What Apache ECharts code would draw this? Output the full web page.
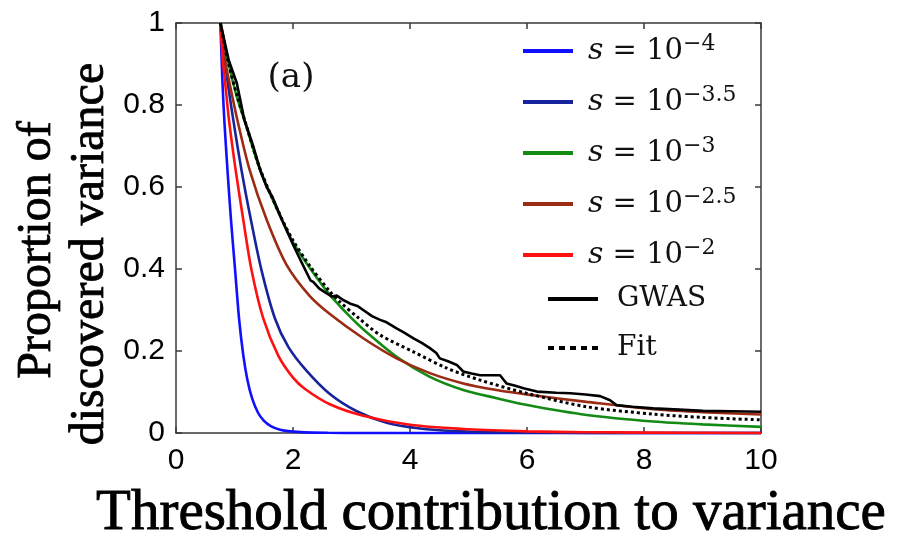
<!DOCTYPE html>
<html>
<head>
<meta charset="utf-8">
<script src="https://cdn.jsdelivr.net/npm/echarts@6/dist/echarts.min.js"></script>
<style>
html,body{margin:0;padding:0;background:#fff;}
#chart{width:902px;height:538px;}
</style>
</head>
<body>
<div id="chart"></div>
<script>
// ---- data ----
const xTicks = [0, 2, 4, 6, 8, 10];
const yTicks = [0, 0.2, 0.4, 0.6, 0.8, 1];

const seriesNames = ['s = 10^-4', 's = 10^-3.5', 's = 10^-3', 's = 10^-2.5', 's = 10^-2', 'GWAS', 'Fit'];
const sExponents = ['\u22124', '\u22123.5', '\u22123', '\u22122.5', '\u22122'];

const s4X = [0.76, 0.79, 0.826, 0.88, 0.94, 1.01, 1.08, 1.15, 1.22, 1.3, 1.4, 1.5, 1.62, 1.78, 1.95, 2.2, 2.6, 3.2, 4, 6, 8, 10];
const s4Y = [1, 0.87, 0.763, 0.641, 0.52, 0.398, 0.276, 0.19, 0.13, 0.085, 0.05, 0.03, 0.017, 0.008, 0.004, 0.0015, 0.0005, 0, 0, 0, 0, 0];

const s35X = [0.76, 0.85, 0.98, 1.12, 1.28, 1.46, 1.69, 1.92, 2.23, 2.63, 3.09, 3.6, 4.17, 4.74, 5.5, 6.5, 8, 10];
const s35Y = [1, 0.89, 0.763, 0.641, 0.52, 0.398, 0.28, 0.21, 0.152, 0.095, 0.053, 0.025, 0.011, 0.005, 0.002, 0.001, 0, 0];

const s3X = [0.76, 0.9, 1.04, 1.17, 1.44, 1.81, 2.0, 2.3, 2.63, 3.0, 3.2, 3.77, 4.34, 4.91, 5.48, 6.05, 7.02, 8.16, 9.0, 10];
const s3Y = [1, 0.9, 0.82, 0.763, 0.641, 0.52, 0.465, 0.4, 0.337, 0.28, 0.253, 0.186, 0.137, 0.105, 0.085, 0.067, 0.044, 0.028, 0.021, 0.015];

const s25X = [0.76, 0.85, 0.92, 1.05, 1.26, 1.55, 1.89, 2.28, 2.63, 3.2, 3.77, 4.34, 4.91, 5.48, 6.05, 7.02, 8.16, 9.0, 10];
const s25Y = [1, 0.9, 0.85, 0.763, 0.641, 0.52, 0.41, 0.335, 0.29, 0.231, 0.182, 0.146, 0.121, 0.105, 0.093, 0.076, 0.058, 0.051, 0.045];

const s2X = [0.76, 0.8, 0.85, 0.906, 1.02, 1.15, 1.29, 1.49, 1.75, 2.0, 2.2, 2.63, 3.2, 4.0, 5.0, 6.0, 7, 8, 10];
const s2Y = [1, 0.91, 0.84, 0.763, 0.641, 0.52, 0.398, 0.28, 0.188, 0.135, 0.108, 0.07, 0.042, 0.02, 0.009, 0.004, 0.002, 0.001, 0];

const gwasX = [0.76, 0.9, 1.04, 1.17, 1.32, 1.44, 1.55, 1.65, 1.81, 2.0, 2.1, 2.21, 2.3, 2.35, 2.45, 2.55, 2.66, 2.75, 2.85, 2.97, 3.1, 3.2, 3.35, 3.49, 3.6, 3.77, 3.9, 4.06, 4.2, 4.34, 4.45, 4.51, 4.65, 4.8, 4.91, 5.05, 5.2, 5.54, 5.6, 5.65, 5.8, 5.94, 6.17, 6.5, 6.74, 7.0, 7.25, 7.42, 7.53, 7.8, 8.16, 8.6, 9.01, 9.5, 10];
const gwasY = [1, 0.91, 0.853, 0.763, 0.7, 0.641, 0.6, 0.575, 0.52, 0.46, 0.43, 0.398, 0.372, 0.368, 0.352, 0.343, 0.333, 0.335, 0.325, 0.316, 0.31, 0.3, 0.285, 0.276, 0.27, 0.255, 0.245, 0.231, 0.22, 0.207, 0.195, 0.182, 0.175, 0.166, 0.15, 0.145, 0.141, 0.141, 0.13, 0.121, 0.115, 0.109, 0.101, 0.098, 0.097, 0.094, 0.09, 0.08, 0.068, 0.064, 0.06, 0.057, 0.054, 0.053, 0.052];

const fitX = [0.76, 0.9, 1.04, 1.17, 1.44, 1.81, 2.0, 2.3, 2.63, 2.8, 3.1, 3.49, 4.06, 4.63, 5.2, 5.99, 7.02, 8.16, 9.0, 10];
const fitY = [1, 0.9, 0.825, 0.765, 0.643, 0.522, 0.47, 0.405, 0.345, 0.32, 0.283, 0.239, 0.198, 0.158, 0.129, 0.097, 0.064, 0.046, 0.038, 0.032];

const colors = ['#1010ff', '#16239a', '#138a13', '#9b2b12', '#ff1010', '#000000', '#000000'];

// ---- build chart ----
const zip = (xs, ys) => xs.map((x, i) => [x, ys[i]]);
const allX = [s4X, s35X, s3X, s25X, s2X, gwasX, fitX];
const allY = [s4Y, s35Y, s3Y, s25Y, s2Y, gwasY, fitY];

const axisColor = '#3a3a3a';
const serif = 'DejaVu Serif';
const titleSerif = '"Liberation Serif"';

const series = seriesNames.map((name, i) => ({
  name: name,
  type: 'line',
  data: zip(allX[i], allY[i]),
  showSymbol: false,
  symbol: 'none',
  smooth: i === 5 ? false : 0.3,
  clip: false,
  color: colors[i],
  itemStyle: { color: colors[i] },
  lineStyle: { color: colors[i], width: i === 6 ? 3 : 2.6, type: i === 6 ? [3, 3] : 'solid' },
  z: 2 + i
}));

const rectIcon = 'path://M0,0L50,0L50,4L0,4Z';
const dotIcon = 'path://M0,0h6v4h-6z M11,0h6v4h-6z M22,0h6v4h-6z M33,0h6v4h-6z M44,0h6v4h-6z';

const axisCommon = {
  axisLine: { show: true, onZero: false, lineStyle: { color: axisColor, width: 1.5 } },
  axisTick: { show: true, inside: true, length: 6, lineStyle: { color: axisColor, width: 1.5 } },
  splitLine: { show: false }
};

const chart = echarts.init(document.getElementById('chart'), null, { renderer: 'canvas' });
chart.setOption({
  animation: false,
  backgroundColor: '#fff',
  grid: { left: 176, right: 141, top: 23, bottom: 105, containLabel: false, outerBoundsMode: 'none' },
  xAxis: [Object.assign({
    type: 'value', min: xTicks[0], max: xTicks[xTicks.length - 1], interval: 2, position: 'bottom',
    axisLabel: { color: '#000', fontSize: 30, fontFamily: 'Liberation Sans', margin: 13 }
  }, axisCommon), Object.assign({
    type: 'value', min: xTicks[0], max: xTicks[xTicks.length - 1], interval: 2, position: 'top',
    axisLabel: { show: false }
  }, axisCommon)],
  yAxis: [Object.assign({
    type: 'value', min: yTicks[0], max: yTicks[yTicks.length - 1], interval: 0.2, position: 'left',
    axisLabel: { color: '#000', fontSize: 30, fontFamily: 'Liberation Sans', margin: 11 }
  }, axisCommon), Object.assign({
    type: 'value', min: yTicks[0], max: yTicks[yTicks.length - 1], interval: 0.2, position: 'right',
    axisLabel: { show: false }
  }, axisCommon)],
  legend: [{
    orient: 'vertical', left: 523, top: 33, padding: 0, itemGap: 15,
    itemWidth: 50, itemHeight: 4, selectedMode: false,
    itemStyle: { borderWidth: 0 },
    data: seriesNames.slice(0, 5).map(n => ({ name: n, icon: rectIcon })),
    formatter: function (name) {
      const k = seriesNames.indexOf(name);
      return '{s|s}{m| = 10}{p|' + sExponents[k] + '}';
    },
    textStyle: {
      color: '#111', fontFamily: serif, fontSize: 29, lineHeight: 36, padding: [0, 0, 0, 10],
      rich: {
        s: { fontFamily: serif, fontStyle: 'italic', fontSize: 30, lineHeight: 36, color: '#111' },
        m: { fontFamily: serif, fontSize: 29, lineHeight: 36, color: '#111' },
        p: { fontFamily: serif, fontSize: 22, lineHeight: 22, verticalAlign: 'top', color: '#111' }
      }
    }
  }, {
    orient: 'vertical', left: 548, top: 281, padding: 0, itemGap: 13,
    itemWidth: 52, itemHeight: 4, selectedMode: false,
    itemStyle: { borderWidth: 0 },
    data: [{ name: 'GWAS', icon: rectIcon }, { name: 'Fit', icon: dotIcon }],
    textStyle: { color: '#111', fontFamily: serif, fontSize: 28, lineHeight: 36, padding: [0, 0, 0, 13] }
  }],
  graphic: [
    { type: 'text', x: 291, y: 78, z: 100,
      style: { text: '(a)', font: '34px "DejaVu Serif"', fill: '#111', textAlign: 'center', textVerticalAlign: 'middle' } },
    { type: 'text', x: 491, y: 514, z: 100,
      style: { text: 'Threshold contribution to variance', font: '57px ' + titleSerif, fill: '#000', stroke: '#000', lineWidth: 0.9, textAlign: 'center', textVerticalAlign: 'middle' } },
    { type: 'text', x: 37, y: 250, rotation: Math.PI / 2, z: 100,
      style: { text: 'Proportion of', font: '48px ' + titleSerif, fill: '#000', stroke: '#000', lineWidth: 0.8, textAlign: 'center', textVerticalAlign: 'middle' } },
    { type: 'text', x: 90, y: 254, rotation: Math.PI / 2, z: 100,
      style: { text: 'discovered variance', font: '48px ' + titleSerif, fill: '#000', stroke: '#000', lineWidth: 0.8, textAlign: 'center', textVerticalAlign: 'middle' } }
  ],
  series: series
});
</script>
</body>
</html>
